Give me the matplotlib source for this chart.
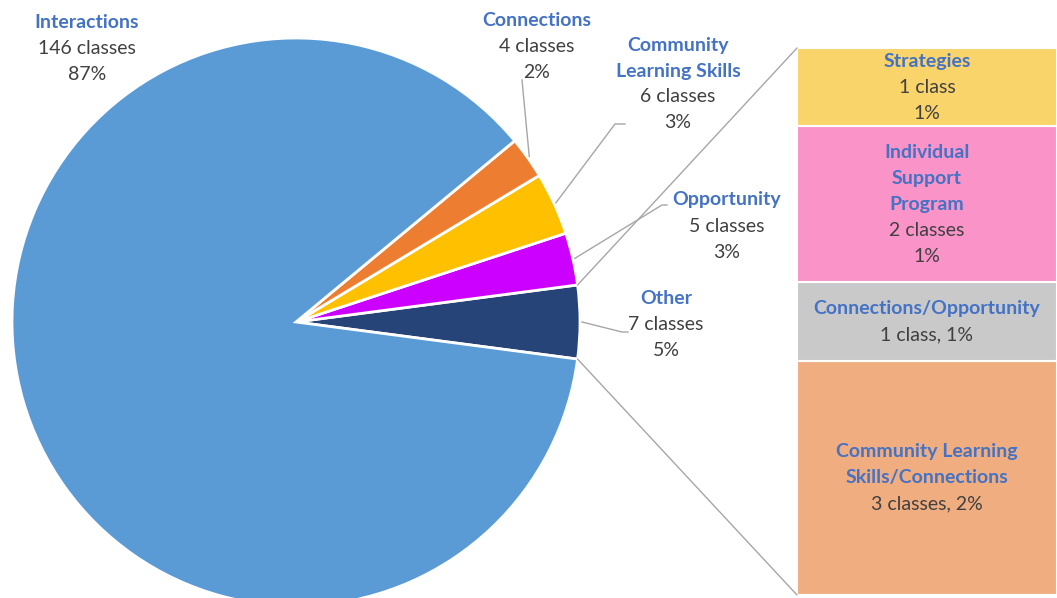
import matplotlib
matplotlib.use('Agg')
import numpy as np
import matplotlib.pyplot as plt
from matplotlib.patches import ConnectionPatch

plt.rcParams['font.family'] = ['Lato', 'DejaVu Sans']

# main pie
categories = ['Interactions', 'Connections', 'Community\nLearning Skills',
              'Opportunity', 'Other']
counts = [146, 4, 6, 5, 7]
count_labels = ['146 classes', '4 classes', '6 classes', '5 classes', '7 classes']
percent_labels = ['87%', '2%', '3%', '3%', '5%']
pie_colors = ['#5B9BD5', '#ED7D31', '#FFC000', '#CC00FF', '#264478']

# breakdown of "Other"
other_parts = ['Strategies', 'Individual\nSupport\nProgram',
               'Connections/Opportunity', 'Community Learning\nSkills/Connections']
other_counts = [1, 2, 1, 3]
other_details = ['1 class\n1%', '2 classes\n1%', '1 class, 1%', '3 classes, 2%']
other_colors = ['#F9D46B', '#F993C8', '#C9C9C9', '#F0AD80']

TITLE_C = '#4472C4'
TEXT_C = '#404040'
LINE_C = '#A6A6A6'
FS = 14
STEP = 26  # line spacing in pixels

W, H = 1057, 598
fig = plt.figure(figsize=(W / 100, H / 100), dpi=100)
ax = fig.add_axes([0, 0, 1, 1])

total = sum(counts)
cx, cy, r = 296, H - 322, 284
wedges, _ = ax.pie(counts[::-1], colors=pie_colors[::-1],
                   startangle=-counts[-1] / total * 180, counterclock=True,
                   center=(cx, cy), radius=r, frame=True,
                   wedgeprops=dict(edgecolor='white', linewidth=2))
wedges = wedges[::-1]
ax.set_xlim(0, W)
ax.set_ylim(0, H)
ax.set_aspect('equal')
ax.axis('off')


def put_lines(axis, x, y, title, detail, center=False):
    lines = [(t, True) for t in title.split('\n')] + \
            [(t, False) for t in detail.split('\n')]
    n = len(lines)
    for i, (txt, bold) in enumerate(lines):
        off = -i * STEP if not center else ((n - 1) / 2 - i) * STEP
        axis.annotate(txt, xy=(x, y), xytext=(0, off), textcoords='offset pixels',
                      ha='center', va='center', fontsize=FS,
                      fontweight='bold' if bold else 'normal',
                      color=TITLE_C if bold else TEXT_C)


def arc_point(w, rad):
    a = np.deg2rad((w.theta1 + w.theta2) / 2)
    return cx + rad * np.cos(a), cy + rad * np.sin(a)


# label positions (image px: x, top line y) and leader elbows
label_pos = [(87, 22), (537, 20), (678, 45), (727, 200), (666, 299)]
elbows = [None, [(522, 80)], [(615, 124), (625, 124)],
          [(662, 205), (667, 205)], [(622, 332), (628, 332)]]

for i in range(len(categories)):
    lx, ly = label_pos[i]
    put_lines(ax, lx, H - ly, categories[i], count_labels[i] + '\n' + percent_labels[i])
    if elbows[i]:
        px, py = arc_point(wedges[i], r + 2)
        xs = [px] + [e[0] for e in elbows[i]]
        ys = [py] + [H - e[1] for e in elbows[i]]
        ax.plot(xs, ys, color=LINE_C, lw=1)

# stacked bar for "Other"
bax = fig.add_axes([797 / W, 3 / H, 260 / W, 547 / H])
bottom = 0
for name, c, det, col in list(zip(other_parts, other_counts, other_details, other_colors))[::-1]:
    bax.bar(0, c, bottom=bottom, width=1, color=col, edgecolor='white', linewidth=1.5)
    put_lines(bax, 0, bottom + c / 2, name, det, center=True)
    bottom += c
bax.set_xlim(-0.5, 0.5)
bax.set_ylim(0, sum(other_counts))
bax.axis('off')

# connector lines from "Other" wedge to the bar
ow = wedges[-1]
for ang, yb in [(ow.theta2, 1), (ow.theta1, 0)]:
    a = np.deg2rad(ang)
    con = ConnectionPatch(xyA=(cx + r * np.cos(a), cy + r * np.sin(a)), coordsA=ax.transData,
                          xyB=(-0.5, yb * sum(other_counts)), coordsB=bax.transData,
                          color=LINE_C, lw=1)
    fig.add_artist(con)

fig.savefig('out.png', dpi=100)
